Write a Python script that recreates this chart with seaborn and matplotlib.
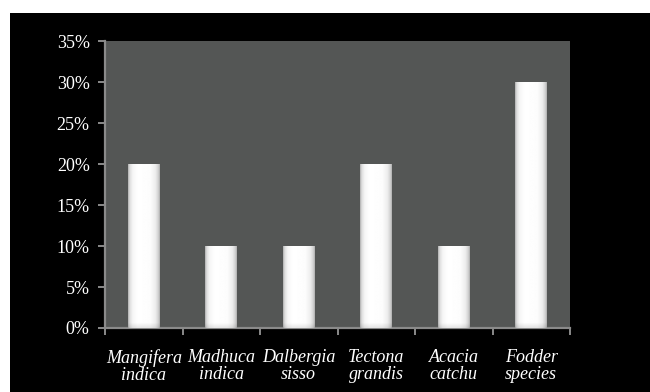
import numpy as np
import pandas as pd
import matplotlib
matplotlib.use("Agg")
import matplotlib.pyplot as plt
import seaborn as sns
from matplotlib.patches import Rectangle
from matplotlib.ticker import FuncFormatter, MultipleLocator, FixedLocator

species = ["Mangifera\nindica", "Madhuca\nindica", "Dalbergia\nsisso",
           "Tectona\ngrandis", "Acacia\ncatchu", "Fodder\nspecies"]
share = [20, 10, 10, 20, 10, 30]

df = pd.DataFrame({"species": species, "share": share})

sns.set_theme(style="white")
plt.rcParams["font.family"] = ["Liberation Serif", "DejaVu Serif"]

fig = plt.figure(figsize=(6.5, 3.92), dpi=100)
fig.patch.set_facecolor("white")
fig.patches.append(Rectangle((10 / 650, 0), 640 / 650, (392 - 13) / 392,
                             transform=fig.transFigure, facecolor="black",
                             edgecolor="none", zorder=-10))

ax = fig.add_axes([105 / 650, (392 - 328) / 392, (570 - 105) / 650, (328 - 41) / 392])
ax.set_facecolor("#545655")

sns.barplot(data=df, x="species", y="share", color="white", width=0.41,
            ax=ax, saturation=1, edgecolor="none")

# gradient fill for each bar
xs = np.linspace(0, 1, 200)
prof = np.interp(xs, [0, 0.05, 0.14, 0.3, 0.7, 0.86, 0.95, 1.0],
                 [0.68, 0.86, 0.96, 1.0, 0.99, 0.93, 0.82, 0.68])
ys = np.linspace(0, 1, 200)
for p in ax.patches:
    x0, w, h = p.get_x(), p.get_width(), p.get_height()
    top_px = 5.0
    bar_px = h / 35 * 287
    vfac = np.clip((1 - ys) * bar_px / top_px, 0, 1)
    vshade = 0.9 + 0.1 * vfac
    img = prof[None, :] * vshade[:, None]
    ax.imshow(img, extent=[x0, x0 + w, 0, h], origin="upper", cmap="gray",
              vmin=0, vmax=1, aspect="auto", zorder=3, interpolation="bilinear")

ax.set_xlim(-0.5, len(species) - 0.5)
ax.set_ylim(0, 35)
ax.yaxis.set_major_locator(MultipleLocator(5))
ax.yaxis.set_major_formatter(FuncFormatter(lambda v, _: f"{v:.0f}%"))

ax.set_xlabel("")
ax.set_ylabel("")

for s in ["top", "right"]:
    ax.spines[s].set_visible(False)
for s in ["left", "bottom"]:
    ax.spines[s].set_color("#8a8a8a")
    ax.spines[s].set_linewidth(1.6)

ax.tick_params(axis="y", which="major", left=True, length=5, width=1.4,
               color="#8a8a8a", labelcolor="white", labelsize=13, pad=6)
ax.xaxis.set_minor_locator(FixedLocator(np.arange(-0.5, len(species), 1.0)))
ax.tick_params(axis="x", which="minor", bottom=True, length=5, width=1.4,
               color="#8a8a8a")
ax.tick_params(axis="x", which="major", bottom=False, length=0,
               labelcolor="white", labelsize=13, pad=15)
for lab in ax.get_xticklabels():
    lab.set_fontstyle("italic")
    lab.set_linespacing(1.0)

fig.savefig("out.png", dpi=100, facecolor=fig.get_facecolor())
